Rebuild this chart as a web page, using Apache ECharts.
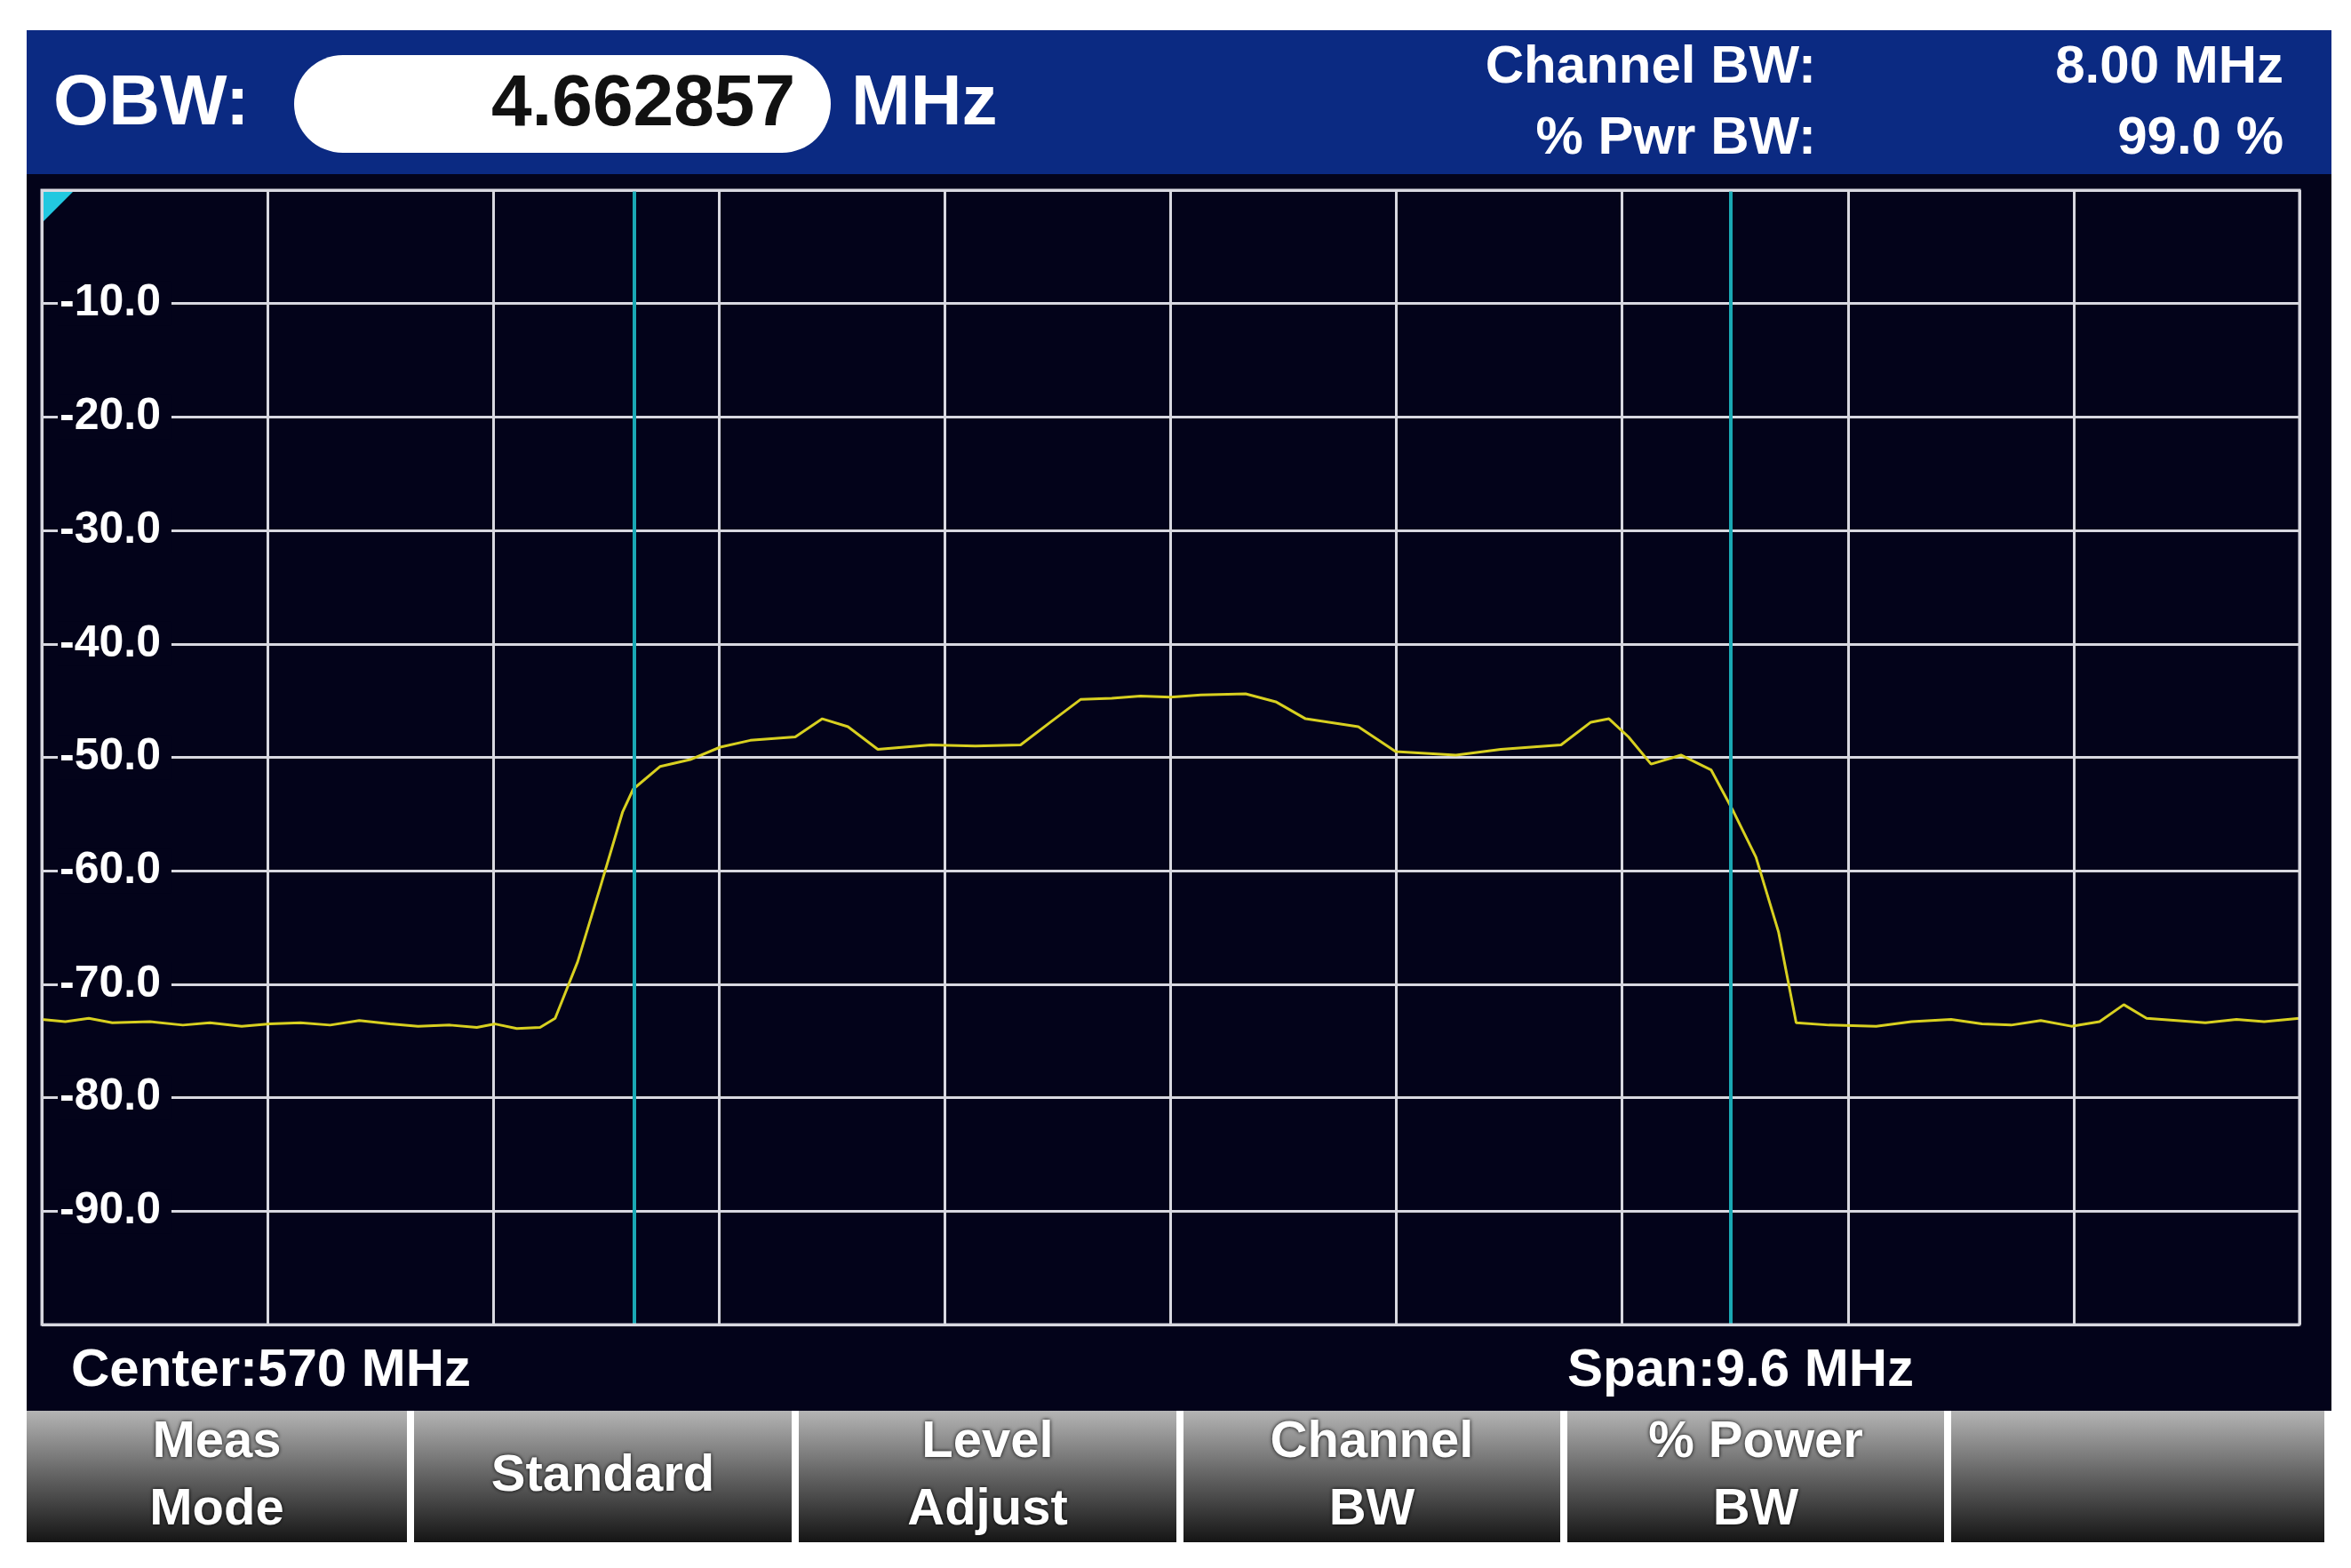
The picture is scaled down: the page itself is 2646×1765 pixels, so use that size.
<!DOCTYPE html>
<html>
<head>
<meta charset="utf-8">
<script src="https://cdn.jsdelivr.net/npm/echarts@6/dist/echarts.min.js"></script>
<style>
  html, body { margin: 0; padding: 0; background: #fff; }
  #chart { width: 2646px; height: 1765px; }
</style>
</head>
<body>
<div id="chart"></div>
<script>
// frequency offset from start of span (MHz, span 9.6 MHz centred on 570 MHz)
const traceFreq = [
  0, 0.1, 0.2, 0.3, 0.46, 0.6, 0.715, 0.85, 0.97, 1.1, 1.226, 1.35, 1.481, 1.6, 1.736, 1.85, 1.928, 2.02, 2.119, 2.183,
  2.279, 2.374, 2.47, 2.515, 2.63, 2.757, 2.885, 3.013, 3.204, 3.319, 3.428, 3.555, 3.779, 3.97, 4.162,
  4.289, 4.417, 4.55, 4.672, 4.8, 4.928, 5.119, 5.247, 5.374, 5.598, 5.757, 6.013, 6.204, 6.46, 6.587,
  6.664, 6.747, 6.843, 6.97, 7.098, 7.194, 7.289, 7.385, 7.46, 7.6, 7.8, 7.95, 8.119, 8.25, 8.374,
  8.5, 8.63, 8.75, 8.853, 8.95, 9.077, 9.2, 9.332, 9.45, 9.6
];
const traceLevel = [
  -73.1, -73.3, -73.0, -73.4, -73.3, -73.6, -73.4, -73.7, -73.5, -73.4, -73.6, -73.2, -73.5, -73.7, -73.6, -73.8, -73.5, -73.9, -73.8, -73.0,
  -68.0, -61.5, -54.8, -52.8, -50.8, -50.2, -49.1, -48.5, -48.2, -46.6, -47.3, -49.3, -48.9, -49.0, -48.9,
  -46.9, -44.9, -44.8, -44.6, -44.7, -44.5, -44.4, -45.1, -46.6, -47.3, -49.5, -49.8, -49.3, -48.9, -46.9,
  -46.6, -48.2, -50.6, -49.8, -51.1, -54.8, -58.8, -65.4, -73.4, -73.6, -73.7, -73.3, -73.1, -73.5, -73.6,
  -73.2, -73.7, -73.3, -71.8, -73.0, -73.2, -73.4, -73.1, -73.3, -73.0
];
const markerFreq = [2.515, 7.181];
const yTicks = [-10, -20, -30, -40, -50, -60, -70, -80, -90];
const buttonLabels = [['Meas', 'Mode'], ['Standard'], ['Level', 'Adjust'], ['Channel', 'BW'], ['% Power', 'BW'], []];

const FONT = '"Liberation Sans Narrow", "Liberation Sans", Arial, sans-serif';
const chart = echarts.init(document.getElementById('chart'));

const buttons = [];
const btnX = [30, 466, 899, 1332, 1764, 2196];
btnX.forEach((x, i) => {
  const w = (i < 5 ? btnX[i + 1] : 2624) - x - 8;
  buttons.push({
    type: 'rect', z: -1,
    shape: { x: x, y: 1588, width: w, height: 148 },
    style: {
      fill: new echarts.graphic.LinearGradient(0, 0, 0, 1, [
        { offset: 0, color: '#b4b4b4' }, { offset: 0.45, color: '#6a6a6a' }, { offset: 1, color: '#151515' }
      ])
    }
  });
  const lines = buttonLabels[i];
  if (lines.length) {
    buttons.push({
      type: 'text', z: 5,
      style: {
        x: x + w / 2, y: 1662, text: lines.join('\n'), align: 'center', verticalAlign: 'middle',
        fill: '#fff', font: 'bold 58px ' + FONT, lineHeight: 76,
        textShadowColor: '#000', textShadowBlur: 4
      }
    });
  }
});

const option = {
  backgroundColor: '#ffffff',
  animation: false,
  grid: { left: 47, right: 58, top: 214, bottom: 274 },
  xAxis: {
    type: 'value', min: 0, max: 9.6, interval: 0.96,
    axisLine: { show: false }, axisTick: { show: false }, axisLabel: { show: false },
    splitLine: { lineStyle: { color: '#d8d8e0', width: 3 } }
  },
  yAxis: {
    type: 'value', min: -100, max: 0, interval: 10,
    axisLine: { show: false }, axisTick: { show: false },
    axisLabel: {
      inside: true, margin: 18, color: '#fff', fontFamily: FONT, fontWeight: 'bold', fontSize: 50,
      backgroundColor: '#03031a', padding: [0, 12, 0, 2],
      formatter: v => yTicks.includes(v) ? v.toFixed(1) : ''
    },
    splitLine: { lineStyle: { color: '#d8d8e0', width: 3 } }
  },
  graphic: [
    { type: 'rect', z: -2, shape: { x: 30, y: 34, width: 2594, height: 162 }, style: { fill: '#0b2a82' } },
    { type: 'rect', z: -2, shape: { x: 30, y: 196, width: 2594, height: 1392 }, style: { fill: '#03031a' } },
    { type: 'rect', z: 10, shape: { x: 47, y: 214, width: 2541, height: 1277 }, style: { fill: 'none', stroke: '#d8d8e0', lineWidth: 3 } },
    { type: 'polygon', z: 11, shape: { points: [[49, 216], [82, 216], [49, 249]] }, style: { fill: '#22c8e0' } },
    { type: 'text', style: { x: 60, y: 118, text: 'OBW:', fill: '#fff', font: 'bold 80px ' + FONT, verticalAlign: 'middle' } },
    { type: 'rect', shape: { x: 331, y: 62, width: 604, height: 110, r: 55 }, style: { fill: '#fff' } },
    { type: 'text', style: { x: 895, y: 118, text: '4.662857', fill: '#111', font: 'bold 82px ' + FONT, align: 'right', verticalAlign: 'middle' } },
    { type: 'text', style: { x: 958, y: 118, text: 'MHz', fill: '#fff', font: 'bold 80px ' + FONT, verticalAlign: 'middle' } },
    { type: 'text', style: { x: 2044, y: 76, text: 'Channel BW:', fill: '#fff', font: 'bold 60px ' + FONT, align: 'right', verticalAlign: 'middle' } },
    { type: 'text', style: { x: 2044, y: 156, text: '% Pwr BW:', fill: '#fff', font: 'bold 60px ' + FONT, align: 'right', verticalAlign: 'middle' } },
    { type: 'text', style: { x: 2570, y: 76, text: '8.00 MHz', fill: '#fff', font: 'bold 60px ' + FONT, align: 'right', verticalAlign: 'middle' } },
    { type: 'text', style: { x: 2570, y: 156, text: '99.0 %', fill: '#fff', font: 'bold 60px ' + FONT, align: 'right', verticalAlign: 'middle' } },
    { type: 'text', style: { x: 80, y: 1543, text: 'Center:570 MHz', fill: '#fff', font: 'bold 60px ' + FONT, verticalAlign: 'middle' } },
    { type: 'text', style: { x: 1764, y: 1543, text: 'Span:9.6 MHz', fill: '#fff', font: 'bold 60px ' + FONT, verticalAlign: 'middle' } }
  ].concat(buttons),
  series: [{
    type: 'line',
    data: traceFreq.map((f, i) => [f, traceLevel[i]]),
    showSymbol: false,
    lineStyle: { color: '#d8d020', width: 3 },
    z: 3,
    markLine: {
      silent: true, symbol: 'none', label: { show: false },
      lineStyle: { color: '#1aa8b4', width: 4, type: 'solid' },
      data: markerFreq.map(f => ({ xAxis: f }))
    }
  }]
};

chart.setOption(option);
</script>
</body>
</html>
